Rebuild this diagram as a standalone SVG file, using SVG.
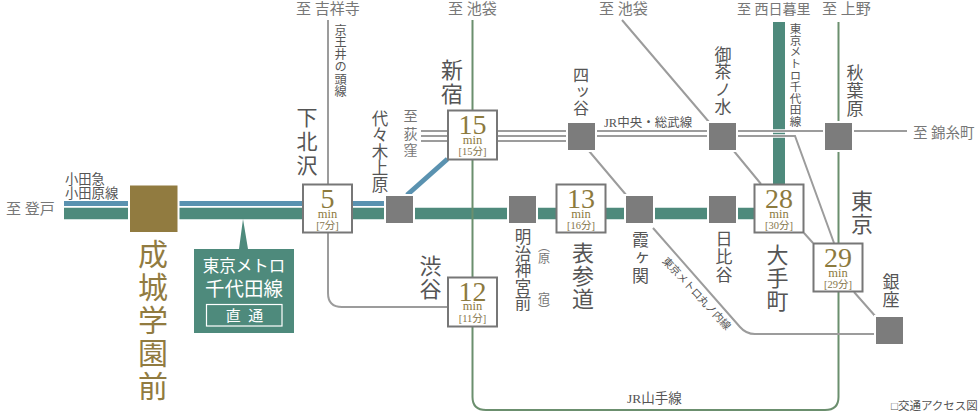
<svg xmlns="http://www.w3.org/2000/svg" width="980" height="412" viewBox="0 0 980 412">
<style>
text{font-family:"Liberation Serif","Noto Sans CJK JP",serif;fill:#555}
.v{writing-mode:vertical-rl;text-orientation:upright}
.to{fill:#777;font-size:15px}
.ln{fill:#555;font-size:12.500px}
.num{fill:#8c7a3e;font-size:28px;text-anchor:middle}
.min{fill:#8c7a3e;font-size:12.500px;text-anchor:middle}
.br{fill:#85764c;font-size:10.500px;text-anchor:middle}
.box{fill:#fff;stroke:#777;stroke-width:2}
.sq{fill:#7c7c7c;stroke:#fff;stroke-width:2}
.g{fill:none;stroke:#9c9c9c;stroke-width:2}
.jr{fill:none;stroke:#6b8f6e;stroke-width:2}
.white{fill:#fff}
</style>
<rect width="980" height="412" fill="#fff"/>
<g id="connectors">
<path d="M64 203.600H128M179.500 203.600H302M352 203.600H385" fill="none" stroke="#5a92b0" stroke-width="5"/>
<path d="M64 213.500H128M179.500 213.500H302M352 213.500H385M415 213.500H507M537 213.500H556M606 213.500H624M654 213.500H707M737 213.500H754" fill="none" stroke="#4e8a7c" stroke-width="11.500"/>
<path d="M779 22V184" fill="none" stroke="#4e8a7c" stroke-width="12"/>
<path d="M447.500 159L407 195" fill="none" stroke="#5a92b0" stroke-width="5"/>
<path d="M472.500 20V110M472.500 160V277M472.500 327V397Q472.500 410 486 410H825Q838.500 410 838.500 397V22" class="jr"/>
<path d="M328 20V184M328 233V293Q328 307 342 307H448" class="g"/>
<path d="M771 131H787M771 136H787" stroke="#fff" stroke-width="3.500" fill="none"/>
<path d="M421 131H448M421 136H448M421 141H448M497 131H568M497 136H568M497 141H568M595 131H709M595 136H709M736 131H825M852 131H907M736 136H795L834 243" class="g"/>
<path d="M622 20L709 122M733 150L761 184M804 233L813 243M854 292L876 317M589 151L627 196M653 228L740 327Q746 334 755 334H876" class="g"/>
</g>
<g id="callout">
<path d="M194 249H239L243 219L248 249H294V333H194Z" fill="#4e8a7c"/>
<rect x="206.500" y="304.500" width="75.500" height="21.500" fill="none" stroke="#fff" stroke-width="1.200"/>
<text x="244" y="272" class="white" style="font-size:16.500px" text-anchor="middle">東京メトロ</text>
<text x="244" y="296" class="white" style="font-size:19.500px" text-anchor="middle">千代田線</text>
<text x="244.500" y="321" class="white" style="font-size:15px" text-anchor="middle" xml:space="preserve">直  通</text>
</g>
<g id="seijo"><rect x="130" y="185.500" width="47.500" height="46.500" fill="#917b40"/>
<text class="v" x="150.500" y="239" style="font-size:30px;letter-spacing:3px;fill:#917b40">成城学園前</text></g>
<g id="shimokitazawa"><rect class="box" x="303" y="184.500" width="49" height="48"/>
<text class="num" x="327.500" y="208">5</text><text class="min" x="327.500" y="218">min</text><text class="br" x="327.500" y="229">[7分]</text>
<text class="v" x="305" y="107" style="font-size:21px;letter-spacing:3px">下北沢</text></g>
<g id="yoyogiuehara"><rect class="sq" x="385" y="195" width="29" height="29"/>
<text class="v" x="378.500" y="110" style="font-size:16.500px">代々木上原</text></g>
<g id="shinjuku"><rect class="box" x="448" y="110.500" width="49" height="49"/>
<text class="num" x="472.500" y="134">15</text><text class="min" x="472.500" y="143.500">min</text><text class="br" x="472.500" y="155">[15分]</text>
<text class="v" x="449.500" y="59" style="font-size:22px;letter-spacing:2px">新宿</text></g>
<g id="shibuya"><rect class="box" x="448" y="277.500" width="49" height="49"/>
<text class="num" x="472.500" y="300.500">12</text><text class="min" x="472.500" y="310">min</text><text class="br" x="472.500" y="321.500">[11分]</text>
<text class="v" x="428" y="255" style="font-size:22px;letter-spacing:1px">渋谷</text></g>
<g id="meijijingumae"><rect class="sq" x="508" y="195" width="29" height="29"/>
<text class="v" x="521.500" y="228.500" style="font-size:16.500px">明治神宮前</text>
<text class="v" x="542.500" y="240" style="font-size:12px;fill:#777" xml:space="preserve">（原  宿）</text></g>
<g id="omotesando"><rect class="box" x="556.500" y="184.500" width="49" height="48"/>
<text class="num" x="581" y="208">13</text><text class="min" x="581" y="218">min</text><text class="br" x="581" y="229">[16分]</text>
<text class="v" x="580.500" y="242" style="font-size:22px;letter-spacing:1px">表参道</text></g>
<g id="kasumigaseki"><rect class="sq" x="625" y="195" width="29" height="29"/>
<text class="v" x="638.500" y="231" style="font-size:17px;letter-spacing:1px">霞ヶ関</text></g>
<g id="hibiya"><rect class="sq" x="708" y="195" width="29" height="29"/>
<text class="v" x="722" y="230" style="font-size:17px;letter-spacing:1px">日比谷</text></g>
<g id="otemachi"><rect class="box" x="754.500" y="184.500" width="49" height="48"/>
<text class="num" x="779" y="208">28</text><text class="min" x="779" y="218">min</text><text class="br" x="779" y="229">[30分]</text>
<text class="v" x="775" y="244" style="font-size:22px;letter-spacing:1px">大手町</text></g>
<g id="tokyo"><rect class="box" x="813.500" y="243.500" width="49" height="48"/>
<text class="num" x="838" y="267">29</text><text class="min" x="838" y="276.500">min</text><text class="br" x="838" y="288">[29分]</text>
<text class="v" x="859.500" y="190" style="font-size:22px;letter-spacing:1px">東京</text></g>
<g id="ginza"><rect class="sq" x="875" y="316" width="29" height="29"/>
<text class="v" x="889" y="273" style="font-size:17px;letter-spacing:1px">銀座</text></g>
<g id="yotsuya"><rect class="sq" x="567" y="122" width="29" height="29"/>
<text class="v" x="579.500" y="67" style="font-size:16px;letter-spacing:.5px">四ッ谷</text></g>
<g id="ochanomizu"><rect class="sq" x="708" y="122" width="29" height="29"/>
<text class="v" x="721" y="46" style="font-size:17px;letter-spacing:.5px">御茶ノ水</text></g>
<g id="akihabara"><rect class="sq" x="824" y="122" width="29" height="29"/>
<text class="v" x="853" y="64" style="font-size:17px;letter-spacing:1px">秋葉原</text></g>
<g id="labels">
<text class="to" x="6" y="214" xml:space="preserve">至 登戸</text>
<text x="65" y="184" style="font-size:13.300px">小田急</text>
<text x="65" y="198" style="font-size:13.300px">小田原線</text>
<text class="to" x="296" y="14" xml:space="preserve">至 吉祥寺</text>
<text class="to" x="448" y="14" xml:space="preserve">至 池袋</text>
<text class="to" x="599" y="14" xml:space="preserve">至 池袋</text>
<text class="to" x="737" y="14" style="font-size:14px" xml:space="preserve">至 西日暮里</text>
<text class="to" x="822" y="14" xml:space="preserve">至 上野</text>
<text class="to" x="913" y="138" style="font-size:14.500px" xml:space="preserve">至 錦糸町</text>
<text class="v to" x="409" y="109" style="font-size:14px;letter-spacing:2px">至</text>
<text class="v to" x="409" y="127" style="font-size:14px;letter-spacing:2px">荻窪</text>
<text class="v" x="339.500" y="24" style="font-size:12.200px">京王井の頭線</text>
<text class="v" x="794" y="23" style="font-size:11.600px">東京メトロ千代田線</text>
<text class="ln" x="604" y="127">JR中央・総武線</text>
<text class="ln" x="627" y="403" style="font-size:13.500px">JR山手線</text>
<text x="891" y="410" style="font-size:11.500px">□交通アクセス図</text>
<text transform="translate(694 296) rotate(47)" text-anchor="middle" style="font-size:10.500px">東京メトロ丸ノ内線</text>
</g>
</svg>
